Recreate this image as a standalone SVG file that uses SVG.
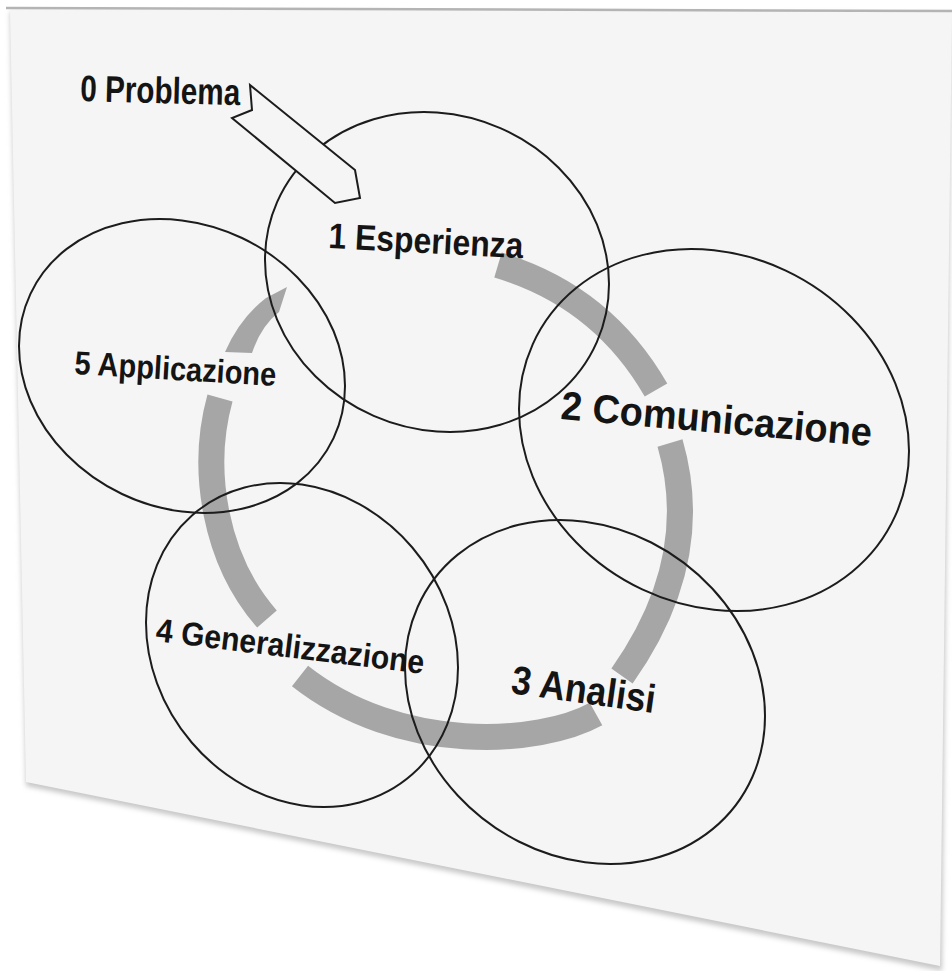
<svg xmlns="http://www.w3.org/2000/svg" width="952" height="971" viewBox="0 0 952 971">
  <defs>
    <filter id="soft" x="-5%" y="-5%" width="110%" height="110%">
      <feGaussianBlur stdDeviation="2.5"/>
    </filter>
  </defs>
  <style>
    .circle { fill: none; stroke: #1c1c1c; stroke-width: 2; vector-effect: non-scaling-stroke; }
    .ring { fill: none; stroke: #a6a6a6; stroke-width: 26; stroke-linecap: butt; }
    .label { font-family: "Liberation Sans", Arial, sans-serif; font-weight: bold; fill: #141414; }
  </style>
  <rect x="0" y="0" width="952" height="971" fill="#ffffff"/>
  <!-- sheet -->
  <g id="sheet">
    <polygon points="10,12 952,14 942,971 26,786" fill="#c8c8c8" filter="url(#soft)"/>
    <polygon points="10,10 952,12 940,966 26,782" fill="#f5f5f5"/>
    <line x1="6" y1="8" x2="952" y2="11" stroke="#b4b4b4" stroke-width="2.5"/>
  </g>
  <!-- cycle ring connectors -->
  <g id="connectors">
    <path class="ring" d="M 498,265 Q 602,296 656,390"/>
    <path class="ring" d="M 670,443 Q 704,560 622,676"/>
    <path class="ring" d="M 596,714 C 540,745 400,755 300,676"/>
    <path class="ring" d="M 267,619 C 215,560 200,470 220,398"/>
    <path d="M 225,352 Q 240,318 266,298 L 287,287 L 279,312 Q 261,326 252,353 Z" fill="#a6a6a6"/>
  </g>
  <!-- nodes -->
  <g id="node1">
    <ellipse class="circle" cx="0" cy="0" rx="1" ry="1" transform="matrix(172,12,0,159.5,437,272)"/>
    <text class="label" x="328" y="248" font-size="36" textLength="195" lengthAdjust="spacingAndGlyphs" transform="rotate(3 328 248)">1 Esperienza</text>
  </g>
  <g id="node2">
    <ellipse class="circle" cx="0" cy="0" rx="1" ry="1" transform="matrix(195,21,0,179.8,714,430)"/>
    <text class="label" x="560" y="419" font-size="40" textLength="312" lengthAdjust="spacingAndGlyphs" transform="rotate(5 560 419)">2 Comunicazione</text>
  </g>
  <g id="node3">
    <ellipse class="circle" cx="0" cy="0" rx="1" ry="1" transform="matrix(180,24,0,170.3,585,692)"/>
    <text class="label" x="510" y="693" font-size="40" textLength="145" lengthAdjust="spacingAndGlyphs" transform="rotate(8 510 693)">3 Analisi</text>
  </g>
  <g id="node4">
    <ellipse class="circle" cx="0" cy="0" rx="1" ry="1" transform="matrix(156,22.5,0,160.4,302,645)"/>
    <text class="label" x="155" y="641" font-size="33" textLength="270" lengthAdjust="spacingAndGlyphs" transform="rotate(7 155 641)">4 Generalizzazione</text>
  </g>
  <g id="node5">
    <ellipse class="circle" cx="0" cy="0" rx="1" ry="1" transform="matrix(163,20,0,145.6,182,366)"/>
    <text class="label" x="74" y="374" font-size="33" textLength="202" lengthAdjust="spacingAndGlyphs" transform="rotate(3.4 74 374)">5 Applicazione</text>
  </g>
  <g id="node0">
    <polygon points="250,85 355,170 360,198 335,203 232,118 252,110" fill="#f5f5f5" stroke="#1c1c1c" stroke-width="2" stroke-linejoin="miter"/>
    <text class="label" x="80" y="101" font-size="37" textLength="160" lengthAdjust="spacingAndGlyphs" transform="rotate(1.5 80 101)">0 Problema</text>
  </g>
</svg>
